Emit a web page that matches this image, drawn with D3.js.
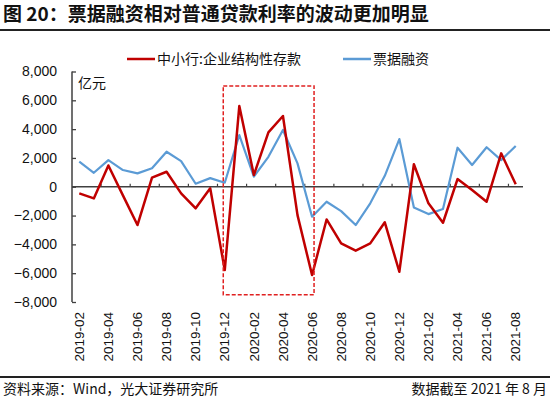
<!DOCTYPE html>
<html>
<head>
<meta charset="utf-8">
<script src="https://cdn.jsdelivr.net/npm/d3@7"></script>
<style>
    body { margin: 0; background: #fff; }
    text { font-family: "Liberation Sans", "Noto Sans CJK SC", sans-serif; fill: #111; }
    .cjk { font-family: "Noto Sans CJK SC", sans-serif; }
</style>
</head>
<body>
<script>
// months 2019-02 .. 2021-08
var months = ["2019-02", "2019-03", "2019-04", "2019-05", "2019-06", "2019-07", "2019-08",
    "2019-09", "2019-10", "2019-11", "2019-12", "2020-01", "2020-02", "2020-03", "2020-04",
    "2020-05", "2020-06", "2020-07", "2020-08", "2020-09", "2020-10", "2020-11", "2020-12",
    "2021-01", "2021-02", "2021-03", "2021-04", "2021-05", "2021-06", "2021-07", "2021-08"];

// 中小行:企业结构性存款 (亿元)
var structDeposit = [-460, -810, 1480, -600, -2660, 630, 1040, -460, -1500, -110, -5780,
    5600, 810, 3780, 4910, -1970, -6130, -2270, -3930, -4440, -3930, -2470, -5900,
    1560, -1150, -2500, 530, -230, -1040, 2320, 170];

// 票据融资 (亿元)
var billFinancing = [1740, 970, 1850, 1160, 930, 1280, 2430, 1780, 210, 600, 280,
    3590, 700, 2080, 3940, 1620, -2080, -1040, -1690, -2660, -1150, 760, 3310,
    -1440, -1900, -1550, 2710, 1510, 2740, 1850, 2830];

var yTicks = [-8000, -6000, -4000, -2000, 0, 2000, 4000, 6000, 8000];
var xLabels = months.filter(function (m, i) { return i % 2 === 0; });

var width = 550,
    height = 398;

var svg = d3.select("body").append("svg")
    .attr("width", width)
    .attr("height", height);

// title
svg.append("text")
    .attr("class", "cjk")
    .attr("x", 3)
    .attr("y", 21)
    .style("font-size", "19px")
    .style("font-weight", "bold")
    .text("图 20：票据融资相对普通贷款利率的波动更加明显");
svg.append("line")
    .attr("x1", 0).attr("x2", width)
    .attr("y1", 30).attr("y2", 30)
    .attr("stroke", "#222")
    .attr("stroke-width", 2);

var x = d3.scaleBand()
    .domain(months)
    .range([72, 523]);

var y = d3.scaleLinear()
    .domain([-8000, 8000])
    .range([302, 71.5]);

function cx(m) {
    return x(m) + x.bandwidth() / 2;
}

// y axis
var yAxis = svg.append("g")
    .attr("transform", "translate(72,0)")
    .call(d3.axisRight(y).tickValues(yTicks).tickSize(4).tickFormat(""));
yAxis.select(".domain").remove();
yAxis.selectAll("line").attr("stroke", "#404040").attr("stroke-width", 1.3);
svg.append("line")
    .attr("x1", 72).attr("x2", 72)
    .attr("y1", y(8000)).attr("y2", y(-8000))
    .attr("stroke", "#404040")
    .attr("stroke-width", 1.5);

svg.selectAll(".ylab")
    .data(yTicks)
    .enter().append("text")
    .attr("class", "ylab")
    .attr("x", 57)
    .attr("y", function (d) { return y(d); })
    .attr("dy", "0.35em")
    .attr("text-anchor", "end")
    .style("font-size", "14px")
    .text(d3.format(","));

svg.append("text")
    .attr("class", "cjk")
    .attr("x", 78)
    .attr("y", 88)
    .style("font-size", "14px")
    .text("亿元");

// zero line with small ticks every 2 months
svg.append("line")
    .attr("x1", 72).attr("x2", 523)
    .attr("y1", y(0)).attr("y2", y(0))
    .attr("stroke", "#404040")
    .attr("stroke-width", 1.5);
svg.selectAll(".xtick")
    .data(months.filter(function (m, i) { return i > 0 && i % 2 === 0; }))
    .enter().append("line")
    .attr("class", "xtick")
    .attr("x1", function (d) { return x(d); })
    .attr("x2", function (d) { return x(d); })
    .attr("y1", y(0) - 3)
    .attr("y2", y(0))
    .attr("stroke", "#404040")
    .attr("stroke-width", 1.2);

// x labels, rotated
svg.selectAll(".xlab")
    .data(xLabels)
    .enter().append("text")
    .attr("class", "xlab")
    .attr("transform", function (d) {
        return "translate(" + cx(d) + ",312) rotate(-90)";
    })
    .attr("dy", "0.35em")
    .attr("text-anchor", "end")
    .style("font-size", "13.5px")
    .text(function (d) { return d; });

// lines
var line = d3.line()
    .x(function (d, i) { return cx(months[i]); })
    .y(function (d) { return y(d); });

svg.append("path")
    .datum(billFinancing)
    .attr("d", line)
    .attr("fill", "none")
    .attr("stroke", "#5B9BD5")
    .attr("stroke-width", 2.2)
    .attr("stroke-linejoin", "round");

svg.append("path")
    .datum(structDeposit)
    .attr("d", line)
    .attr("fill", "none")
    .attr("stroke", "#C00000")
    .attr("stroke-width", 2.5)
    .attr("stroke-linejoin", "round");

// highlight box 2019-12 .. 2020-06
svg.append("rect")
    .attr("x", cx("2019-12") - 1.5)
    .attr("y", y(7000))
    .attr("width", cx("2020-06") + 2 - (cx("2019-12") - 1.5))
    .attr("height", y(-7500) - y(7000))
    .attr("fill", "none")
    .attr("stroke", "#E02020")
    .attr("stroke-width", 1.5)
    .attr("stroke-dasharray", "4,2");

// legend
var legend = [
    {name: "中小行:企业结构性存款", color: "#C00000", x: 127},
    {name: "票据融资", color: "#5B9BD5", x: 343}
];
legend.forEach(function (l) {
    svg.append("line")
        .attr("x1", l.x).attr("x2", l.x + 28)
        .attr("y1", 59).attr("y2", 59)
        .attr("stroke", l.color)
        .attr("stroke-width", 2.5);
    svg.append("text")
        .attr("class", "cjk")
        .attr("x", l.x + 30)
        .attr("y", 59)
        .attr("dy", "0.35em")
        .style("font-size", "14px")
        .text(l.name);
});

// footer
svg.append("line")
    .attr("x1", 0).attr("x2", width)
    .attr("y1", 377).attr("y2", 377)
    .attr("stroke", "#222")
    .attr("stroke-width", 2);
svg.append("text")
    .attr("class", "cjk")
    .attr("x", 3)
    .attr("y", 394)
    .style("font-size", "14px")
    .text("资料来源：Wind，光大证券研究所");
svg.append("text")
    .attr("class", "cjk")
    .attr("x", 547)
    .attr("y", 394)
    .attr("text-anchor", "end")
    .style("font-size", "14px")
    .text("数据截至 2021 年 8 月");
</script>
</body>
</html>
